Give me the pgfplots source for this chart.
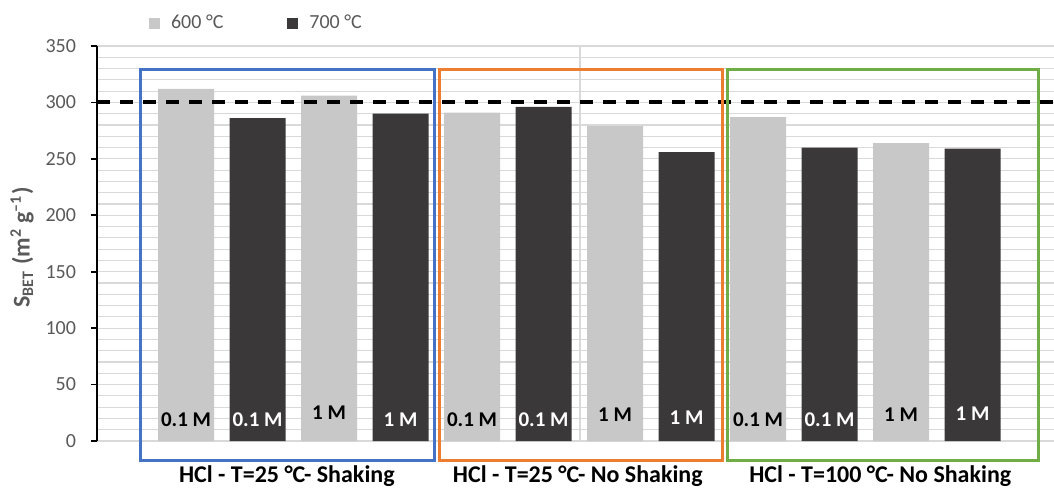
\documentclass[border=0pt]{standalone}
\usepackage{pgfplots}
\pgfplotsset{compat=1.18}
\usepackage{fontspec}
\setmainfont{Carlito}
\definecolor{lightbar}{RGB}{200,200,200}
\definecolor{darkbar}{RGB}{58,56,56}
\definecolor{boxblue}{RGB}{68,114,196}
\definecolor{boxorange}{RGB}{237,125,49}
\definecolor{boxgreen}{RGB}{112,173,71}
\definecolor{txtgrey}{RGB}{89,89,89}
\definecolor{gridgrey}{RGB}{217,217,217}

\begin{document}
\begin{tikzpicture}
\path[use as bounding box] (0,0) rectangle (527pt,244.5pt);
\begin{axis}[
  at={(48.5pt,24pt)}, anchor=south west,
  scale only axis, width=478.5pt, height=197.5pt,
  ybar, bar width=28pt, bar shift=0pt,
  xmin=-1.245, xmax=12.14, ymin=0, ymax=350,
  xtick=\empty,
  ytick distance=50, minor y tick num=4,
  ymajorgrids, yminorgrids,
  major grid style={gridgrey, line width=0.6pt},
  minor grid style={gridgrey, line width=0.6pt},
  axis x line*=bottom, axis y line*=left,
  x axis line style={gridgrey,-},
  y axis line style={black,-,line width=0.8pt},
  ytick style={black, line width=0.8pt},
  major tick length=3pt, minor tick length=0pt,
  tick align=outside,
  /pgf/number format/assume math mode=true,
  yticklabel style={font=\fontsize{10}{12}\selectfont, text=txtgrey, xshift=-4pt},
  ylabel={\textbf{S\textsubscript{BET} (m\textsuperscript{2} g\textsuperscript{–1})}},
  ylabel style={at={(axis description cs:-0.0784,0.49)}, anchor=center,
    font=\fontsize{12}{14}\selectfont, text=txtgrey},
  legend columns=2,
  legend image code/.code={\fill[#1] (0pt,-2.75pt) rectangle (5.5pt,2.75pt);
    \path (9pt,0pt);},
  legend style={at={(axis description cs:0.054,1.058)}, anchor=west,
    draw=none, fill=none, inner sep=0pt, text=txtgrey,
    font=\fontsize{10}{12}\selectfont,
    /tikz/every even column/.append style={column sep=30pt}},
  clip=false,
]
\draw[gridgrey, line width=0.6pt] (axis cs:5.51,0) -- (axis cs:5.51,350);

\addplot[fill=lightbar, draw=none] coordinates {
  (0,312) (2,306) (4,291) (6,279) (8,287) (10,264)};
\addlegendentry{600 °C}
\addplot[fill=darkbar, draw=none] coordinates {
  (1,286) (3,290) (5,296) (7,256) (9,260) (11,259)};
\addlegendentry{700 °C}

% reference line
\addplot[sharp plot, black, line width=2pt, dash pattern=on 6.5pt off 5pt, forget plot]
  coordinates {(-1.245,300) (12.14,300)};

% group frames
\draw[boxblue, line width=1.5pt] (axis cs:-0.64,-17.7) rectangle (axis cs:3.47,329.6);
\draw[boxorange, line width=1.5pt] (axis cs:3.54,-17.7) rectangle (axis cs:7.50,329.6);
\draw[boxgreen, line width=1.5pt] (axis cs:7.58,-17.7) rectangle (axis cs:11.92,329.6);

% bar labels
\begin{scope}[every node/.style={font=\fontsize{10.5}{12}\selectfont\bfseries, inner sep=0pt}]
\node[black] at (axis cs:0,19) {0.1 M};
\node[white] at (axis cs:1,19) {0.1 M};
\node[black] at (axis cs:2,25) {1 M};
\node[white] at (axis cs:3,19) {1 M};
\node[black] at (axis cs:4,19) {0.1 M};
\node[white] at (axis cs:5,19) {0.1 M};
\node[black] at (axis cs:6,23) {1 M};
\node[white] at (axis cs:7,21) {1 M};
\node[black] at (axis cs:8,19) {0.1 M};
\node[white] at (axis cs:9,19) {0.1 M};
\node[black] at (axis cs:10,23) {1 M};
\node[white] at (axis cs:11,24) {1 M};
\end{scope}

% group names
\begin{scope}[every node/.style={font=\fontsize{12}{14}\selectfont\bfseries, inner sep=0pt}]
\node at (axis cs:1.41,-31) {HCl - T=25 °C- Shaking};
\node at (axis cs:5.48,-31) {HCl - T=25 °C- No Shaking};
\node at (axis cs:9.71,-31) {HCl - T=100 °C- No Shaking};
\end{scope}
\end{axis}
\end{tikzpicture}
\end{document}
